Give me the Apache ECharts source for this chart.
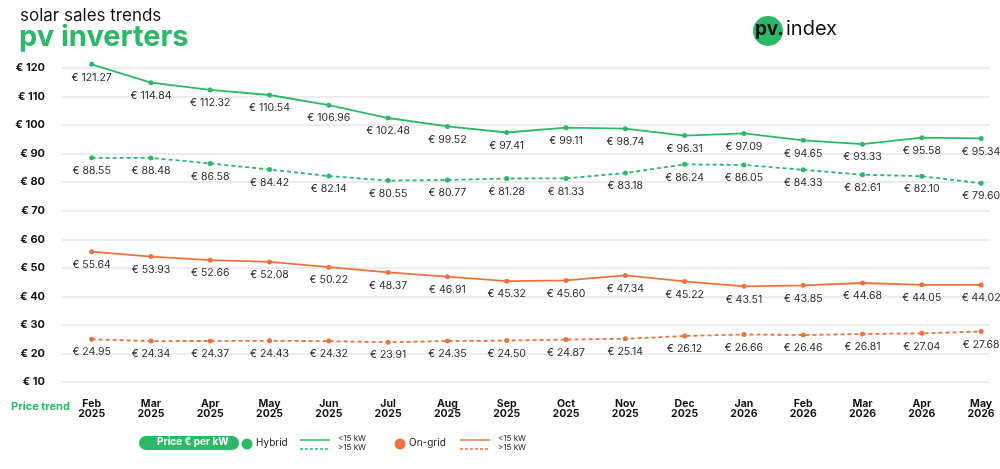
<!DOCTYPE html>
<html>
<head>
    <meta charset="utf-8"/>
    <title>solar sales trends - pv inverters</title>
    <script src="https://cdn.jsdelivr.net/npm/echarts@6.0.0/dist/echarts.min.js"></script>
    <style>
        html, body { margin: 0; padding: 0; background: #fff; }
        #myChart { width: 1000px; height: 469px; }
    </style>
</head>
<body>
<div id="myChart"></div>
<script>
    // 数据
    var categories = ['Feb 2025', 'Mar 2025', 'Apr 2025', 'May 2025', 'Jun 2025', 'Jul 2025', 'Aug 2025', 'Sep 2025',
        'Oct 2025', 'Nov 2025', 'Dec 2025', 'Jan 2026', 'Feb 2026', 'Mar 2026', 'Apr 2026', 'May 2026'];
    var hybridLow = [121.27, 114.84, 112.32, 110.54, 106.96, 102.48, 99.52, 97.41, 99.11, 98.74, 96.31, 97.09, 94.65, 93.33, 95.58, 95.34];
    var hybridHigh = [88.55, 88.48, 86.58, 84.42, 82.14, 80.55, 80.77, 81.28, 81.33, 83.18, 86.24, 86.05, 84.33, 82.61, 82.10, 79.60];
    var ongridLow = [55.64, 53.93, 52.66, 52.08, 50.22, 48.37, 46.91, 45.32, 45.60, 47.34, 45.22, 43.51, 43.85, 44.68, 44.05, 44.02];
    var ongridHigh = [24.95, 24.34, 24.37, 24.43, 24.32, 23.91, 24.35, 24.50, 24.87, 25.14, 26.12, 26.66, 26.46, 26.81, 27.04, 27.68];
    var yTicks = [10, 20, 30, 40, 50, 60, 70, 80, 90, 100, 110, 120];

    var GREEN = '#2bb967';
    var ORANGE = '#f0703c';
    var FONT = 'Inter, "Noto Sans", sans-serif';

    var toPairs = function (arr) {
        return arr.map(function (v, i) { return [i, v]; });
    };

    var makeSeries = function (name, data, color, dashed) {
        return {
            name: name,
            type: 'line',
            data: toPairs(data),
            clip: false,
            symbol: 'circle',
            symbolSize: 5,
            lineStyle: { color: color, width: 1.8, type: dashed ? [4, 3] : 'solid' },
            itemStyle: { color: color },
            label: {
                show: true,
                position: 'bottom',
                distance: 5,
                color: '#2b2b2b',
                fontFamily: FONT,
                fontSize: 10.5,
                formatter: function (p) { return '€ ' + p.value[1].toFixed(2); }
            },
            emphasis: { disabled: true },
            z: dashed ? 3 : 4
        };
    };

    var myChart = echarts.init(document.getElementById('myChart'));
    var option = {
        animation: false,
        grid: { left: 62, right: 10, top: 68, bottom: 87 },
        xAxis: {
            type: 'value',
            min: -0.5,
            max: 15.15,
            axisLine: { show: false },
            axisTick: { show: false },
            splitLine: { show: false },
            axisLabel: {
                customValues: categories.map(function (c, i) { return i; }),
                formatter: function (v) { return categories[v].replace(' ', '\n'); },
                color: '#111',
                fontFamily: FONT,
                fontWeight: 'bold',
                fontSize: 10.5,
                lineHeight: 10,
                margin: 17
            }
        },
        yAxis: {
            type: 'value',
            min: yTicks[0],
            max: yTicks[yTicks.length - 1],
            interval: 10,
            axisLine: { show: false },
            axisTick: { show: false },
            splitLine: { lineStyle: { color: '#e6e6e6', width: 1.5 } },
            axisLabel: {
                formatter: '€ {value}',
                color: '#111',
                fontFamily: FONT,
                fontWeight: 'bold',
                fontSize: 11,
                margin: 17
            }
        },
        series: [
            makeSeries('Hybrid <15 kW', hybridLow, GREEN, false),
            makeSeries('Hybrid >15 kW', hybridHigh, GREEN, true),
            makeSeries('On-grid <15 kW', ongridLow, ORANGE, false),
            makeSeries('On-grid >15 kW', ongridHigh, ORANGE, true)
        ],
        graphic: [
            // 标题
            { type: 'text', left: 20, top: 7, style: { text: 'solar sales trends', fill: '#111', font: '17px ' + FONT } },
            { type: 'text', left: 19, top: 23, style: { text: 'pv inverters', fill: GREEN, font: 'bold 29px ' + FONT } },
            // logo
            { type: 'circle', shape: { cx: 768, cy: 31, r: 15 }, style: { fill: GREEN } },
            { type: 'text', left: 755, top: 20, style: { text: 'pv.', fill: '#111', font: 'bold 19px ' + FONT } },
            { type: 'text', left: 786, top: 19, style: { text: 'index', fill: '#111', font: '20px ' + FONT } },
            // Price trend
            { type: 'text', left: 11, top: 401, style: { text: 'Price trend', fill: GREEN, font: 'bold 11px ' + FONT } },
            // 图例
            { type: 'rect', shape: { x: 139, y: 436, width: 100, height: 14, r: 7 }, style: { fill: GREEN } },
            { type: 'text', left: 157, top: 437, style: { text: 'Price € per kW', fill: '#fff', font: 'bold 10px ' + FONT } },
            { type: 'circle', shape: { cx: 247, cy: 444, r: 5.5 }, style: { fill: GREEN } },
            { type: 'text', left: 256, top: 438, style: { text: 'Hybrid', fill: '#222', font: '10px ' + FONT } },
            { type: 'line', shape: { x1: 300, y1: 440, x2: 330, y2: 440 }, style: { stroke: GREEN, lineWidth: 1.5 } },
            { type: 'line', shape: { x1: 300, y1: 449, x2: 330, y2: 449 }, style: { stroke: GREEN, lineWidth: 1.5, lineDash: [3, 2] } },
            { type: 'text', left: 338, top: 435, style: { text: '<15 kW', fill: '#222', font: '8px ' + FONT } },
            { type: 'text', left: 338, top: 444, style: { text: '>15 kW', fill: '#222', font: '8px ' + FONT } },
            { type: 'circle', shape: { cx: 400, cy: 444, r: 5.5 }, style: { fill: ORANGE } },
            { type: 'text', left: 409, top: 438, style: { text: 'On-grid', fill: '#222', font: '10px ' + FONT } },
            { type: 'line', shape: { x1: 460, y1: 440, x2: 490, y2: 440 }, style: { stroke: ORANGE, lineWidth: 1.5 } },
            { type: 'line', shape: { x1: 460, y1: 449, x2: 490, y2: 449 }, style: { stroke: ORANGE, lineWidth: 1.5, lineDash: [3, 2] } },
            { type: 'text', left: 498, top: 435, style: { text: '<15 kW', fill: '#222', font: '8px ' + FONT } },
            { type: 'text', left: 498, top: 444, style: { text: '>15 kW', fill: '#222', font: '8px ' + FONT } }
        ]
    };
    myChart.setOption(option);
</script>
</body>
</html>
